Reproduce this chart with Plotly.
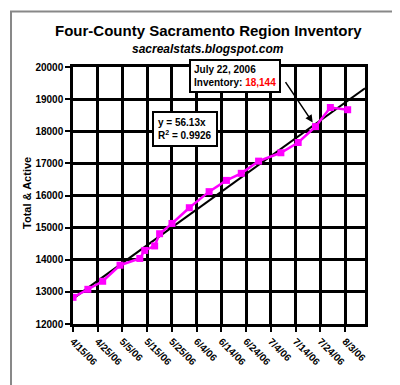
import numpy as np
import pandas as pd
import plotly.graph_objects as go

# ---- data ----
dates = ["2006-04-15", "2006-04-21", "2006-04-27", "2006-05-04", "2006-05-12",
         "2006-05-14", "2006-05-18", "2006-05-20", "2006-05-25", "2006-06-01",
         "2006-06-09", "2006-06-16", "2006-06-22", "2006-06-29", "2006-07-08",
         "2006-07-15", "2006-07-22", "2006-07-28", "2006-08-04"]
inventory = [12830, 13080, 13330, 13830, 14040,
             14290, 14430, 14810, 15130, 15620,
             16120, 16470, 16690, 17070, 17330,
             17650, 18144, 18740, 18670]
x_range = ["2006-04-15", "2006-08-11"]
y_range = [12000, 20000]
title = "Four-County Sacramento Region Inventory"
subtitle = "sacrealstats.blogspot.com"
y_title = "Total & Active"
trend_text = "y = 56.13x<br>R<sup>2</sup> = 0.9926"
callout_date = "2006-07-22"
callout_value = 18144

FONT = "Liberation Sans, Arial, sans-serif"

# linear trendline (fit of the data, like the spreadsheet trendline)
d = pd.to_datetime(dates)
t0 = pd.Timestamp(x_range[0])
days = np.array([(v - t0).days for v in d], dtype=float)
slope, icpt = np.polyfit(days, np.array(inventory, dtype=float), 1)
tr_x = [pd.Timestamp(x_range[0]), pd.Timestamp(x_range[1])]
tr_y = [icpt + slope * (v - t0).days for v in tr_x]

fig = go.Figure()
fig.add_trace(go.Scatter(x=tr_x, y=tr_y, mode="lines",
                         line=dict(color="black", width=2), hoverinfo="skip"))
fig.add_trace(go.Scatter(x=d, y=inventory, mode="lines+markers",
                         line=dict(color="#FF00FF", width=2.5),
                         marker=dict(symbol="square", size=7, color="#FF00FF")))

fig.update_layout(
    width=400, height=385,
    margin=dict(l=65, r=43, t=59, b=69),
    paper_bgcolor="white", plot_bgcolor="white",
    showlegend=False,
    font=dict(family=FONT, color="black", size=10),
)
fig.update_xaxes(
    type="date", range=x_range, tick0=x_range[0], dtick=10 * 86400000,
    tickformat="%-m/%-d/%y", tickangle=45,
    tickfont=dict(family=FONT, size=10, weight="bold"),
    showgrid=True, gridcolor="black", gridwidth=2.5,
    showline=True, linecolor="black", linewidth=2.5, mirror=True,
    ticks="outside", ticklen=5, tickwidth=2, tickcolor="black",
    zeroline=False,
)
fig.update_yaxes(
    range=y_range, dtick=1000, tickformat="d",
    tickfont=dict(family=FONT, size=10, weight="bold"),
    showgrid=True, gridcolor="black", gridwidth=2.5,
    showline=True, linecolor="black", linewidth=2.5, mirror=True,
    ticks="outside", ticklen=5, tickwidth=2, tickcolor="black",
    zeroline=False,
)

ann = []
ann.append(dict(text="<b>" + title + "</b>", xref="paper", yref="paper",
                x=0.463, y=1.1417, xanchor="center", yanchor="middle",
                showarrow=False, font=dict(family=FONT, size=15)))
ann.append(dict(text="<b><i>" + subtitle + "</i></b>", xref="paper", yref="paper",
                x=0.463, y=1.0718, xanchor="center", yanchor="middle",
                showarrow=False, font=dict(family=FONT, size=12)))
ann.append(dict(text="<b>" + y_title + "</b>", xref="paper", yref="paper",
                x=-0.1575, y=0.51, xanchor="center", yanchor="middle",
                textangle=-90, showarrow=False, font=dict(family=FONT, size=11)))
ann.append(dict(text="<b>" + trend_text + "</b>", xref="paper", yref="paper",
                x=0.3825, y=0.757, xanchor="center", yanchor="middle",
                align="left", showarrow=False, bgcolor="white",
                bordercolor="black", borderwidth=2, borderpad=4,
                font=dict(family=FONT, size=10)))
ann.append(dict(text="<b>July 22, 2006<br>Inventory: <span style='color:red'>18,144</span></b>",
                xref="paper", yref="paper",
                x=0.5548, y=0.965, xanchor="center", yanchor="middle",
                align="left", showarrow=False, bgcolor="white",
                bordercolor="black", borderwidth=2, borderpad=3,
                font=dict(family=FONT, size=10)))
ann.append(dict(text="", x=callout_date, y=callout_value, xref="x", yref="y",
                showarrow=True, arrowhead=2, arrowsize=1, arrowwidth=1.5,
                arrowcolor="black", ax=-31, ay=-46, standoff=5))
fig.update_layout(annotations=ann)

# outer picture frame
fig.add_shape(type="rect", xref="paper", yref="paper",
              x0=-0.2123, x1=1.137, y0=-0.2447, y1=1.2155,
              line=dict(color="#888888", width=2), layer="above")

fig.write_html("out.html")
